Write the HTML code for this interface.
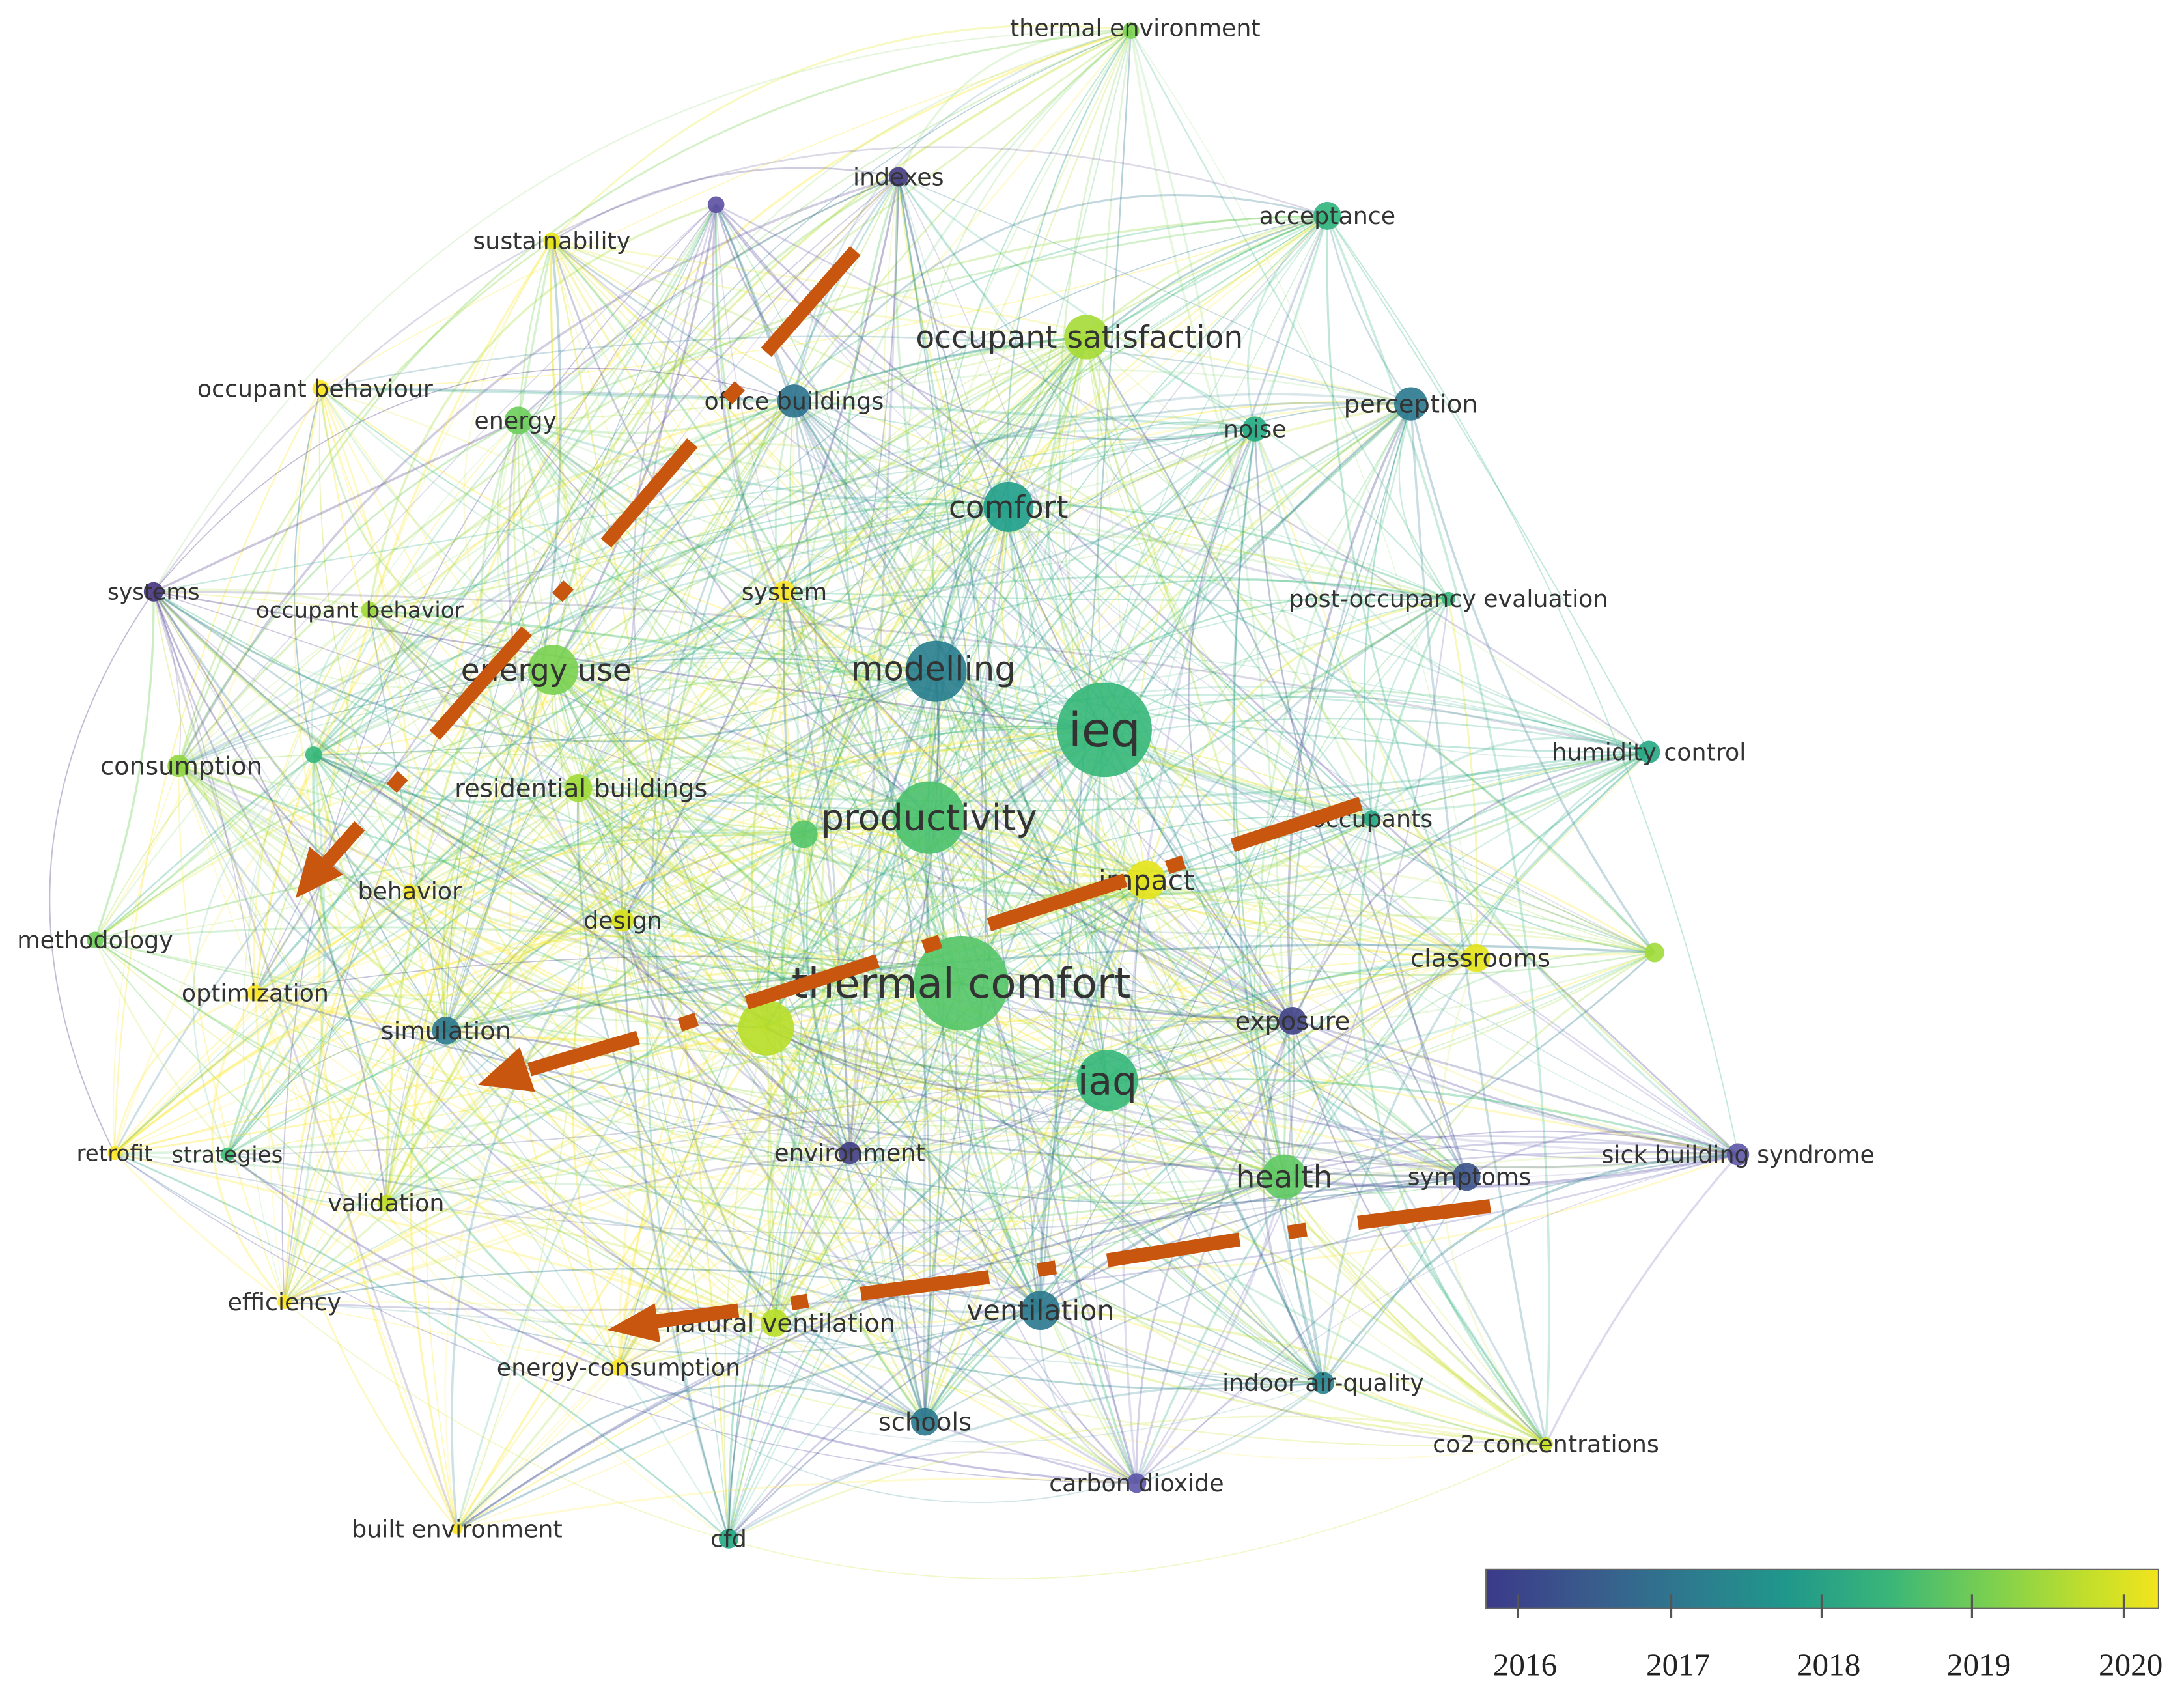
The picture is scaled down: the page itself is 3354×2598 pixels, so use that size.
<!DOCTYPE html>
<html><head><meta charset="utf-8"><style>
html,body{margin:0;padding:0;background:#fff}
svg{display:block}
text{font-family:"DejaVu Sans","Liberation Sans",sans-serif;fill:#333}
</style></head><body>
<svg id="s" width="3354" height="2598" viewBox="0 0 1568 1215" xmlns="http://www.w3.org/2000/svg">
<defs>
<linearGradient id="vir" x1="0" x2="1" y1="0" y2="0">
<stop offset="0" stop-color="#3b3a8a"/><stop offset="0.15" stop-color="#3a5a8c"/><stop offset="0.3" stop-color="#2d7a8e"/><stop offset="0.45" stop-color="#20988b"/><stop offset="0.6" stop-color="#3ab679"/><stop offset="0.75" stop-color="#7bd04f"/><stop offset="0.9" stop-color="#c5df2a"/><stop offset="1" stop-color="#f2e51d"/>
</linearGradient>
</defs>
<g id="edges" fill="none" stroke-width="1"></g>
<g id="nodes"></g>
<g id="labels"></g>
<g fill="#c9560f" stroke="#c9560f" stroke-linecap="butt">
<line x1="614" y1="180" x2="550" y2="253" stroke-width="10"/>
<line x1="522" y1="287" x2="531" y2="277" stroke-width="10"/>
<line x1="497" y1="318" x2="435" y2="390" stroke-width="10"/>
<line x1="400" y1="429" x2="408" y2="420" stroke-width="10"/>
<line x1="378" y1="453" x2="312" y2="528" stroke-width="10"/>
<line x1="281" y1="566" x2="289" y2="557" stroke-width="10"/>
<line x1="258" y1="593" x2="235" y2="619" stroke-width="10"/>
<polygon points="212,645 222,608 246,628" stroke="none"/>
<line x1="977" y1="577" x2="885" y2="607" stroke-width="10"/>
<line x1="850" y1="619" x2="838" y2="623" stroke-width="10"/>
<line x1="808" y1="632" x2="710" y2="664" stroke-width="10"/>
<line x1="675" y1="676" x2="663" y2="680" stroke-width="10"/>
<line x1="630" y1="690" x2="536" y2="720" stroke-width="10"/>
<line x1="500" y1="732" x2="488" y2="736" stroke-width="10"/>
<line x1="458" y1="745" x2="380" y2="768" stroke-width="10"/>
<polygon points="343,779 373,752 384,784" stroke="none"/>
<line x1="1070" y1="866" x2="975" y2="878" stroke-width="10"/>
<line x1="938" y1="883" x2="925" y2="885" stroke-width="10"/>
<line x1="890" y1="890" x2="795" y2="905" stroke-width="10"/>
<line x1="758" y1="910" x2="745" y2="912" stroke-width="10"/>
<line x1="710" y1="917" x2="618" y2="929" stroke-width="10"/>
<line x1="580" y1="934" x2="568" y2="936" stroke-width="10"/>
<line x1="530" y1="941" x2="470" y2="949" stroke-width="10"/>
<polygon points="436,955 470,936 474,964" stroke="none"/>
</g>
<rect x="1067" y="1127" width="483" height="28" fill="url(#vir)" stroke="#666" stroke-width="1"/>
<g stroke="#555" stroke-width="1.5">
<line x1="1090" y1="1145" x2="1090" y2="1162"/><line x1="1200" y1="1145" x2="1200" y2="1162"/><line x1="1308" y1="1145" x2="1308" y2="1162"/><line x1="1416" y1="1145" x2="1416" y2="1162"/><line x1="1525" y1="1145" x2="1525" y2="1162"/>
</g>
<g text-anchor="middle">
<text x="1095" y="1203" style="font-family:'Liberation Serif',serif;font-size:23px;fill:#222">2016</text>
<text x="1205" y="1203" style="font-family:'Liberation Serif',serif;font-size:23px;fill:#222">2017</text>
<text x="1313" y="1203" style="font-family:'Liberation Serif',serif;font-size:23px;fill:#222">2018</text>
<text x="1421" y="1203" style="font-family:'Liberation Serif',serif;font-size:23px;fill:#222">2019</text>
<text x="1530" y="1203" style="font-family:'Liberation Serif',serif;font-size:23px;fill:#222">2020</text>
</g>
</svg>
<script>
var N=[
["thermal environment",812,22,6,"#7ad151",17,815,20],
["indexes",645,127,7,"#443a83",17],
["",514,147,6,"#5b4fa0",17],
["sustainability",396,173,6,"#e5e419",17],
["acceptance",953,155,10,"#2fb47c",17],
["occupant satisfaction",780,242,16,"#a5db36",22,775,242],
["occupant behaviour",230,279,6,"#fde725",17,226,279],
["energy",372,302,10,"#6ccd5a",17,370,302],
["office buildings",570,288,12,"#2c728e",17],
["noise",901,308,9,"#25ab82",17],
["perception",1013,290,12,"#2a788e",18],
["comfort",724,364,18,"#1f9e89",22],
["systems",110,425,7,"#46337e",16],
["occupant behavior",265,438,6,"#a0da39",16,258,438],
["system",563,425,8,"#fde725",17],
["post-occupancy evaluation",1040,430,5,"#35b779",17],
["modelling",672,482,22,"#287d8e",24,670,480],
["energy use",397,481,18,"#7ad151",22,392,481],
["ieq",793,524,34,"#35b779",34],
["humidity control",1184,540,8,"#26a784",17],
["consumption",128,550,8,"#90d743",18,130,550],
["",225,542,6,"#35b779",17],
["residential buildings",415,566,10,"#a0da39",18,417,566],
["productivity",667,587,26,"#4ac16d",26],
["",577,599,10,"#54c568",17],
["occupants",985,588,6,"#22a884",17],
["impact",823,632,14,"#e5e419",20],
["behavior",294,640,5,"#fde725",17],
["design",447,661,8,"#d8e219",17],
["methodology",68,675,6,"#6ece58",17],
["classrooms",1060,688,10,"#e5e419",18,1063,688],
["",1188,684,7,"#a0da39",17],
["optimization",183,713,6,"#fde725",17],
["thermal comfort",690,706,34,"#54c568",30],
["",550,738,20,"#b8de29",17],
["simulation",320,740,10,"#2a788e",18],
["exposure",928,733,10,"#414487",18],
["iaq",795,776,22,"#35b779",28],
["retrofit",82,828,5,"#fde725",16],
["strategies",163,829,5,"#3cbb75",16],
["environment",610,828,8,"#433e85",17],
["sick building syndrome",1248,829,8,"#5d55a8",17],
["health",922,845,16,"#5ec962",22],
["symptoms",1053,845,10,"#3b528b",17,1055,845],
["validation",277,864,6,"#c2df23",17],
["efficiency",204,935,5,"#fde725",17],
["ventilation",747,941,14,"#2a788e",20],
["natural ventilation",556,950,10,"#b8de29",18,560,950],
["energy-consumption",444,982,6,"#fde725",17],
["indoor air-quality",950,993,8,"#26828e",17],
["schools",664,1021,10,"#2a788e",18],
["co2 concentrations",1110,1037,5,"#c8e020",17],
["carbon dioxide",816,1065,7,"#5d55a8",17],
["built environment",328,1098,4,"#fde725",17],
["cfd",523,1105,7,"#22a884",17]
];
var ns="http://www.w3.org/2000/svg";
function el(t,a){var e=document.createElementNS(ns,t);for(var k in a)e.setAttribute(k,a[k]);return e;}
var E=document.getElementById("edges"),G=document.getElementById("nodes"),L=document.getElementById("labels");
var seed=7;function rnd(){seed=(seed*16807)%2147483647;return seed/2147483647;}
for(var i=0;i<N.length;i++)for(var j=i+1;j<N.length;j++){
 var a=N[i],b=N[j];var w=(a[3]+b[3]);var p=Math.min(0.85,0.18+w/45);
 if(rnd()>p)continue;
 var mx=(a[1]+b[1])/2,my=(a[2]+b[2])/2,dx=b[1]-a[1],dy=b[2]-a[2];
 var c=(rnd()-0.5)*0.5+0.12;var cx=mx-dy*c,cy=my+dx*c;
 var col=rnd()<0.5?a[4]:b[4];
 E.appendChild(el("path",{d:"M"+a[1]+","+a[2]+"Q"+cx+","+cy+" "+b[1]+","+b[2],stroke:col,"stroke-opacity":(0.16+rnd()*0.2).toFixed(2),"stroke-width":(0.7+rnd()*1.0).toFixed(2)}));
}
N.forEach(function(n){
 G.appendChild(el("circle",{cx:n[1],cy:n[2],r:n[3],fill:n[4],"fill-opacity":0.9}));
 if(n[0]){var fs=n[5]*1.0;var t=el("text",{x:n[6]||n[1],y:(n[7]||n[2])+fs*0.35,"text-anchor":"middle","font-size":fs});
 t.textContent=n[0];L.appendChild(t);}
});
</script>
</body></html>
